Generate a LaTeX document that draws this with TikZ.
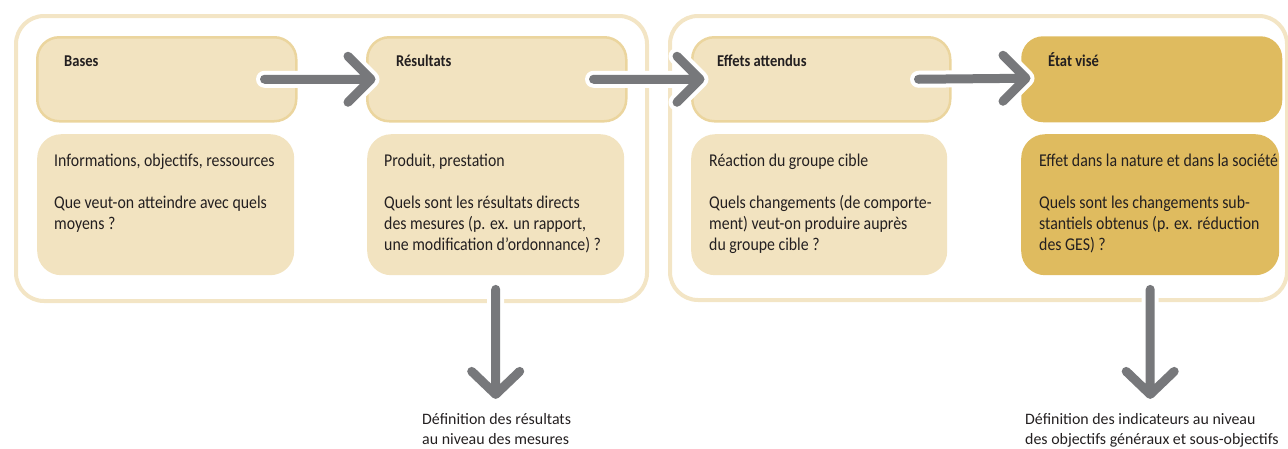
\documentclass[tikz,border=0pt]{standalone}
\usepackage{fontspec}
\setmainfont{Carlito}
\newfontfamily\condfont[FakeStretch=0.88]{Carlito}
\usetikzlibrary{calc}
\definecolor{lightfill}{HTML}{F2E3C0}
\definecolor{boxborder}{HTML}{EBD59E}
\definecolor{goldfill}{HTML}{DFBB5F}
\definecolor{framecol}{HTML}{F3E5C5}
\definecolor{arrowgray}{HTML}{77787B}
\definecolor{textcol}{HTML}{231F20}
\newcommand\leftlines[2][21pt]{\vtop{\baselineskip=#1\lineskiplimit=-50pt\halign{##\hfil\cr#2\crcr}}}
\begin{document}
\begin{tikzpicture}[x=1pt,y=-1pt,
  frame/.style={draw=framecol,line width=4pt,rounded corners=28pt,anchor=north west,inner sep=0pt},
  headbox/.style={fill=lightfill,draw=boxborder,line width=2.5pt,rounded corners=22pt,anchor=north west,inner sep=0pt,minimum height=84pt},
  bodybox/.style={fill=lightfill,rounded corners=24pt,anchor=north west,inner sep=0pt,minimum height=141pt},
  label/.style={anchor=base west,inner sep=0pt,text=textcol,font=\condfont\fontsize{16.5}{18}\selectfont\bfseries},
  bodytext/.style={anchor=base west,inner sep=0pt,text=textcol,font=\condfont\fontsize{18}{21}\selectfont},
  captext/.style={anchor=base west,inner sep=0pt,text=textcol,font=\fontsize{15.9}{20}\selectfont},
  flowarrow/.style={draw=arrowgray,line width=9pt,line cap=round,line join=round,
    preaction={draw=white,line width=17pt,line cap=round,line join=round}}
]
\useasboundingbox (0,0) rectangle (1288,448);
% frames
\node[frame,minimum width=631pt,minimum height=285pt] (outer1) at (14,14) {};
\node[frame,minimum width=617pt,minimum height=284pt] (outer2) at (668,14) {};
% head boxes
\node[headbox,minimum width=259pt] (basesT) at (36,36) {};
\node[headbox,minimum width=259pt] (resT) at (366,36) {};
\node[headbox,minimum width=258pt] (effT) at (691,36) {};
\node[headbox,fill=goldfill,draw=none,minimum width=261pt,minimum height=86pt] (etatT) at (1020,35) {};
% body boxes
\node[bodybox,minimum width=257pt] (basesB) at (37,134) {};
\node[bodybox,minimum width=257pt] (resB) at (367,134) {};
\node[bodybox,minimum width=256pt] (effB) at (691,134) {};
\node[bodybox,fill=goldfill,minimum width=258pt] (etatB) at (1021,134) {};
% labels
\node[label] (basesL) at (64,66) {Bases};
\node[label] (resL) at (396,66) {Résultats};
\node[label] (effL) at (717,66) {Effets attendus};
\node[label] (etatL) at (1048,66) {État visé};
% body texts
\node[bodytext] (basesX) at (54,166) {\leftlines{Informations, objectifs, ressources\cr\cr Que veut-on atteindre avec quels\cr moyens ?}};
\node[bodytext] (resX) at (384,166) {\leftlines{Produit, prestation\cr\cr Quels sont les résultats directs\cr des mesures (p. ex. un rapport,\cr une modification d’ordonnance) ?}};
\node[bodytext] (effX) at (709,166) {\leftlines{Réaction du groupe cible\cr\cr Quels changements (de comporte-\cr ment) veut-on produire auprès\cr du groupe cible ?}};
\node[bodytext] (etatX) at (1039,166) {\leftlines{Effet dans la nature et dans la société\cr\cr Quels sont les changements sub-\cr stantiels obtenus (p. ex. réduction\cr des GES) ?}};
% captions
\node[captext] (cap1) at (422,424) {\leftlines[20pt]{Définition des résultats\cr au niveau des mesures}};
\node[captext] (cap2) at (1025,424) {\leftlines[20pt]{Définition des indicateurs au niveau\cr des objectifs généraux et sous-objectifs}};
% arrows
\coordinate (a1s) at ([xshift=-33pt]basesT.east);
\coordinate (a1t) at ([xshift=5pt]resT.west);
\coordinate (a2s) at ([xshift=-34pt]resT.east);
\coordinate (a2t) at ([xshift=9pt]effT.west);
\coordinate (a3s) at ([xshift=-33pt]effT.east);
\coordinate (a3t) at ([xshift=6pt,yshift=1pt]etatT.west);
\coordinate (v1s) at ([yshift=-14pt]resB.south);
\coordinate (v1t) at ([yshift=-119pt]resB.south);
\coordinate (v2s) at ([yshift=-14pt]etatB.south);
\coordinate (v2t) at ([yshift=-119pt]etatB.south);
\foreach \s/\t in {a1s/a1t,a2s/a2t,a3s/a3t}{
  \draw[flowarrow] (\s) -- (\t) ($(\t)+(-23,-23)$) -- (\t) -- ($(\t)+(-23,23)$);
}
\foreach \s/\t in {v1s/v1t,v2s/v2t}{
  \draw[flowarrow] (\s) -- (\t) ($(\t)+(-24,-23)$) -- (\t) -- ($(\t)+(24,-23)$);
}
\end{tikzpicture}
\end{document}
